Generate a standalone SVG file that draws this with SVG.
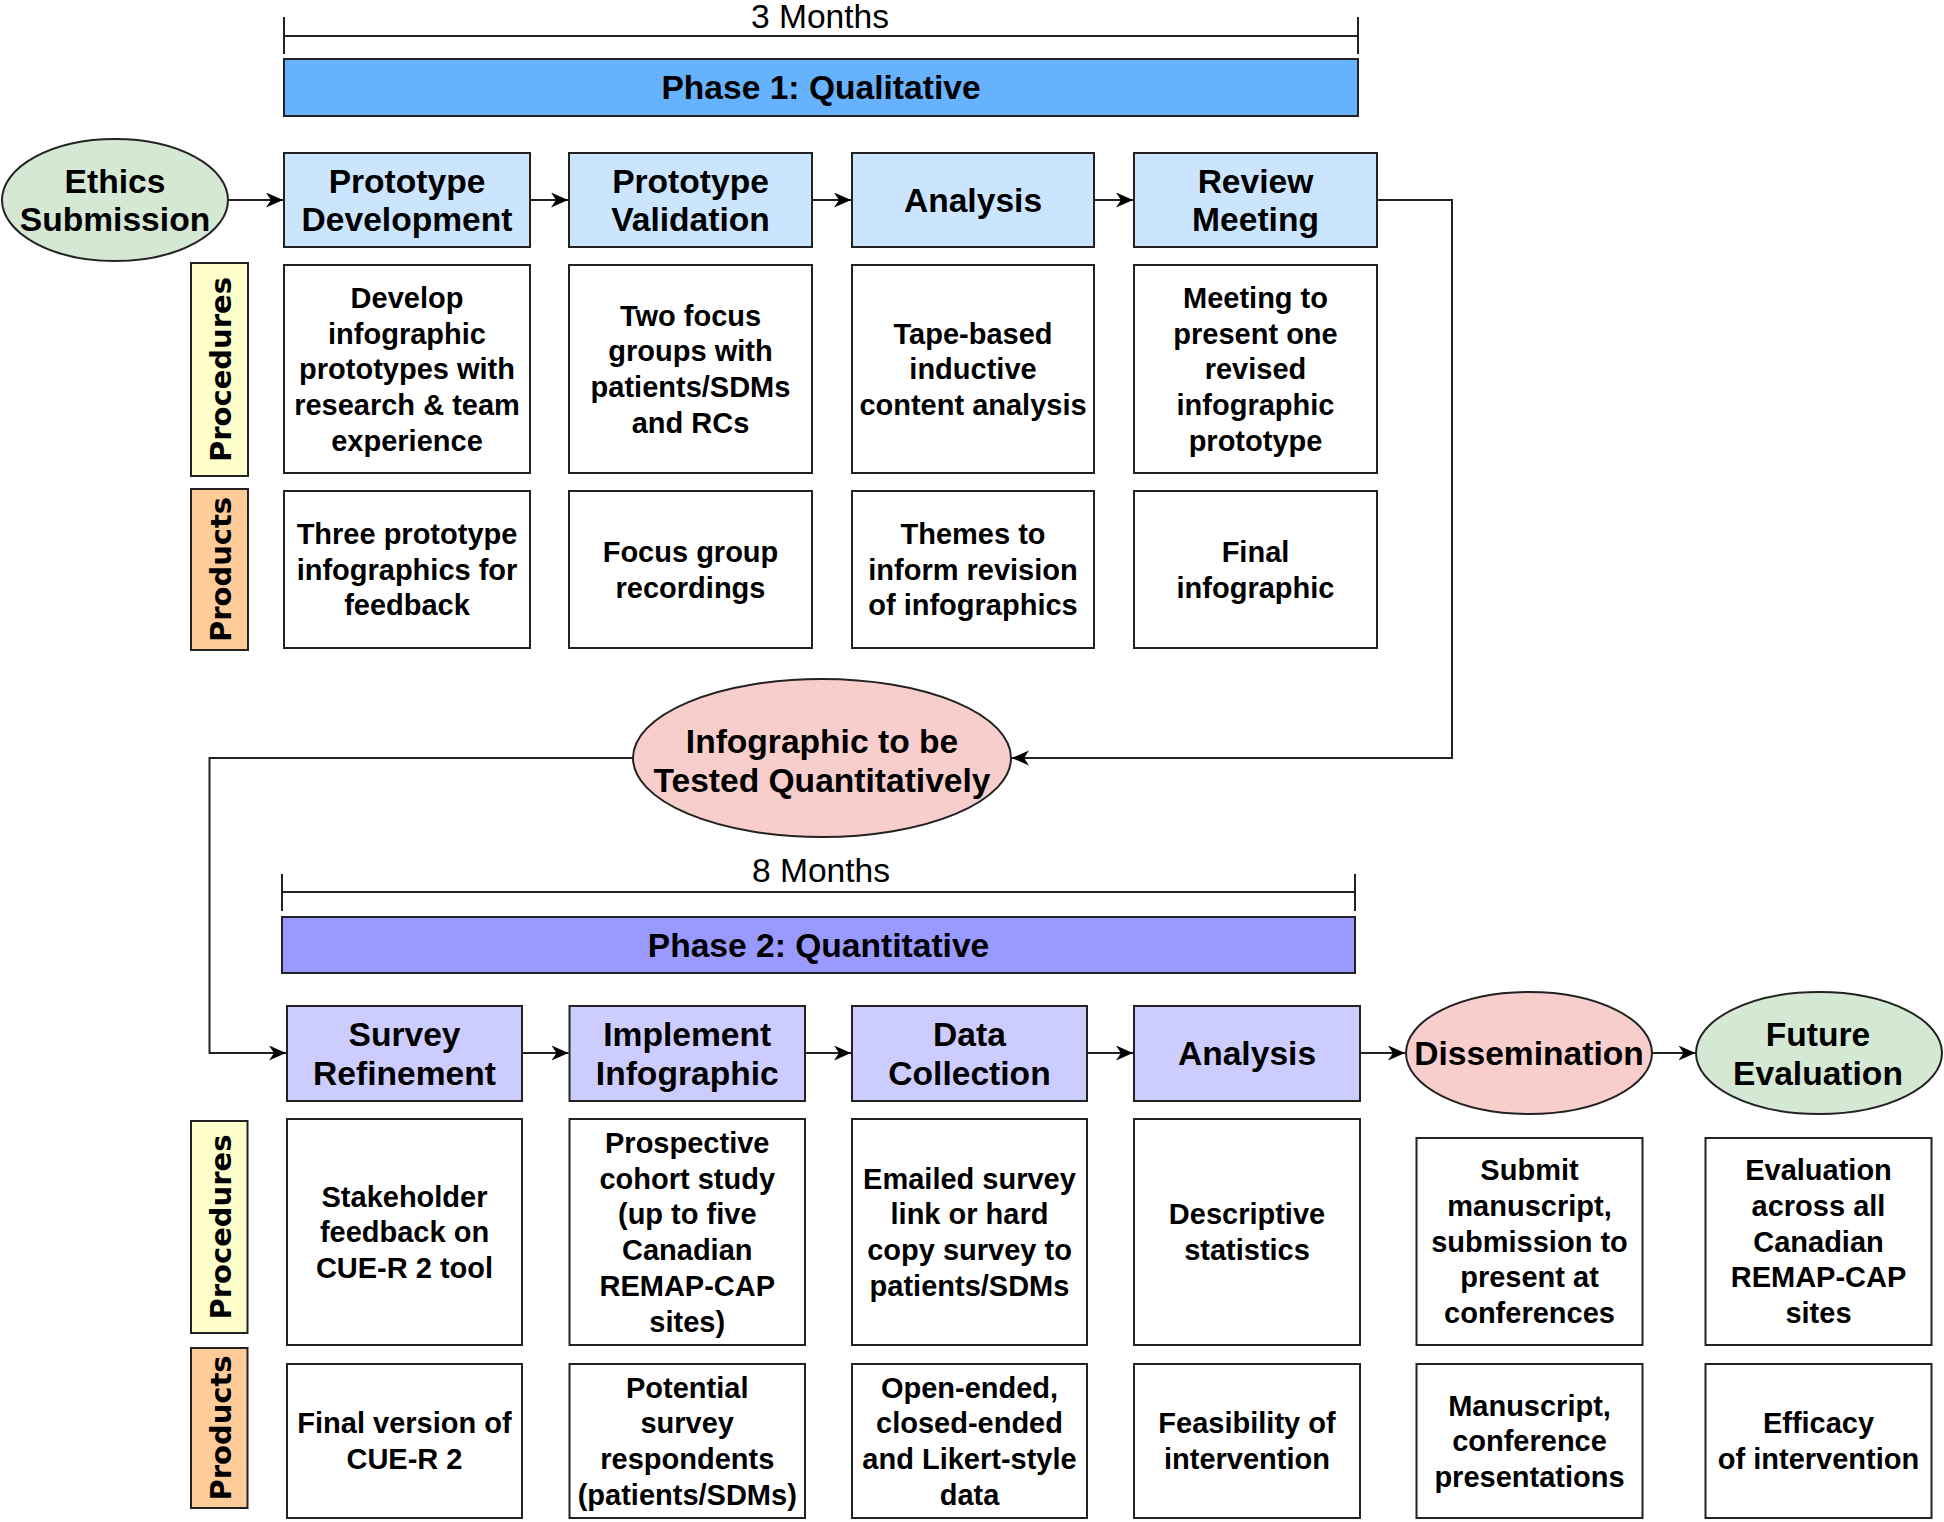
<svg xmlns="http://www.w3.org/2000/svg" width="1944" height="1522" viewBox="0 0 1944 1522">
<defs>
<style>
.bx{stroke:#222;stroke-width:2}
.w{fill:#fff}
.p1{fill:#CCE5FF}
.p2{fill:#CCCCFF}
.t{font-family:"Liberation Sans",Arial,sans-serif;font-weight:bold;font-size:33.6px;text-anchor:middle;fill:#000}
.b{font-family:"Liberation Sans",Arial,sans-serif;font-weight:bold;font-size:29px;text-anchor:middle;fill:#000}
.m{font-family:"Liberation Sans",Arial,sans-serif;font-size:33.6px;text-anchor:middle;fill:#000}
.lab{font-family:"DejaVu Sans",Verdana,sans-serif;font-weight:bold;font-size:29px;text-anchor:middle;fill:#000}
.c{fill:none;stroke:#222;stroke-width:2}
</style>
<marker id="ar" markerUnits="userSpaceOnUse" markerWidth="20" markerHeight="16" refX="17" refY="7.5" orient="auto">
<path d="M0,0 L17,7.5 L0,15 L5,7.5 z" fill="#000"/>
</marker>
</defs>
<rect width="1944" height="1522" fill="#fff"/>

<!-- Phase 1 header -->
<g id="timeline1">
<path d="M284,36 H1358 M284,17 V54 M1358,17 V54" class="c"/>
<text class="m" x="820" y="28">3 Months</text>
</g>
<g id="phase1">
<rect x="284" y="59" width="1074" height="57" fill="#66B2FF" class="bx"/>
<text class="t" x="821" y="99.3">Phase 1: Qualitative</text>
</g>

<!-- Phase 1 nodes -->
<g id="ethics">
<ellipse cx="115" cy="200" rx="113" ry="61" fill="#D5E8D4" class="bx"/>
<text class="t" x="115" y="192.5">Ethics</text>
<text class="t" x="115" y="231">Submission</text>
</g>
<g id="protoDev">
<rect x="284" y="153" width="246" height="94" class="bx p1"/>
<text class="t" x="407" y="192.5">Prototype</text>
<text class="t" x="407" y="231">Development</text>
</g>
<g id="protoVal">
<rect x="569" y="153" width="243" height="94" class="bx p1"/>
<text class="t" x="690.5" y="192.5">Prototype</text>
<text class="t" x="690.5" y="231">Validation</text>
</g>
<g id="analysis1">
<rect x="852" y="153" width="242" height="94" class="bx p1"/>
<text class="t" x="973" y="211.8">Analysis</text>
</g>
<g id="review">
<rect x="1134" y="153" width="243" height="94" class="bx p1"/>
<text class="t" x="1255.5" y="192.5">Review</text>
<text class="t" x="1255.5" y="231">Meeting</text>
</g>

<g id="procLabel1">
<rect x="191" y="263" width="57" height="213" fill="#FFFFCC" class="bx"/>
<text class="lab" transform="translate(231,369.5) rotate(-90)" x="0" y="0">Procedures</text>
</g>
<g id="prodLabel1">
<rect x="191" y="489" width="57" height="161" fill="#FFCC99" class="bx"/>
<text class="lab" transform="translate(231,569.5) rotate(-90)" x="0" y="0">Products</text>
</g>

<g id="proc1a">
<rect x="284" y="265" width="246" height="208" class="bx w"/>
<text class="b" x="407" y="307.8">Develop</text>
<text class="b" x="407" y="343.5">infographic</text>
<text class="b" x="407" y="379.2">prototypes with</text>
<text class="b" x="407" y="414.9">research &amp; team</text>
<text class="b" x="407" y="450.6">experience</text>
</g>
<g id="proc1b">
<rect x="569" y="265" width="243" height="208" class="bx w"/>
<text class="b" x="690.5" y="325.7">Two focus</text>
<text class="b" x="690.5" y="361.4">groups with</text>
<text class="b" x="690.5" y="397.1">patients/SDMs</text>
<text class="b" x="690.5" y="432.8">and RCs</text>
</g>
<g id="proc1c">
<rect x="852" y="265" width="242" height="208" class="bx w"/>
<text class="b" x="973" y="343.5">Tape-based</text>
<text class="b" x="973" y="379.2">inductive</text>
<text class="b" x="973" y="414.9">content analysis</text>
</g>
<g id="proc1d">
<rect x="1134" y="265" width="243" height="208" class="bx w"/>
<text class="b" x="1255.5" y="307.8">Meeting to</text>
<text class="b" x="1255.5" y="343.5">present one</text>
<text class="b" x="1255.5" y="379.2">revised</text>
<text class="b" x="1255.5" y="414.9">infographic</text>
<text class="b" x="1255.5" y="450.6">prototype</text>
</g>

<g id="prod1a">
<rect x="284" y="491" width="246" height="157" class="bx w"/>
<text class="b" x="407" y="544">Three prototype</text>
<text class="b" x="407" y="579.7">infographics for</text>
<text class="b" x="407" y="615.4">feedback</text>
</g>
<g id="prod1b">
<rect x="569" y="491" width="243" height="157" class="bx w"/>
<text class="b" x="690.5" y="561.9">Focus group</text>
<text class="b" x="690.5" y="597.6">recordings</text>
</g>
<g id="prod1c">
<rect x="852" y="491" width="242" height="157" class="bx w"/>
<text class="b" x="973" y="544">Themes to</text>
<text class="b" x="973" y="579.7">inform revision</text>
<text class="b" x="973" y="615.4">of infographics</text>
</g>
<g id="prod1d">
<rect x="1134" y="491" width="243" height="157" class="bx w"/>
<text class="b" x="1255.5" y="561.9">Final</text>
<text class="b" x="1255.5" y="597.6">infographic</text>
</g>

<g id="infographic">
<ellipse cx="822" cy="758" rx="189" ry="79" fill="#F8CECC" class="bx"/>
<text class="t" x="822" y="752.8">Infographic to be</text>
<text class="t" x="822" y="791.8">Tested Quantitatively</text>
</g>

<!-- Phase 2 header -->
<g id="timeline2">
<path d="M282,892 H1355 M282,874 V911 M1355,874 V911" class="c"/>
<text class="m" x="821" y="882">8 Months</text>
</g>
<g id="phase2">
<rect x="282" y="917" width="1073" height="56" fill="#9999FF" class="bx"/>
<text class="t" x="818.5" y="956.8">Phase 2: Quantitative</text>
</g>

<g id="survey">
<rect x="287" y="1006" width="235" height="95" class="bx p2"/>
<text class="t" x="404.5" y="1046">Survey</text>
<text class="t" x="404.5" y="1084.5">Refinement</text>
</g>
<g id="implement">
<rect x="569.5" y="1006" width="235.5" height="95" class="bx p2"/>
<text class="t" x="687.25" y="1046">Implement</text>
<text class="t" x="687.25" y="1084.5">Infographic</text>
</g>
<g id="dataCollection">
<rect x="852" y="1006" width="235" height="95" class="bx p2"/>
<text class="t" x="969.5" y="1046">Data</text>
<text class="t" x="969.5" y="1084.5">Collection</text>
</g>
<g id="analysis2">
<rect x="1134" y="1006" width="226" height="95" class="bx p2"/>
<text class="t" x="1247" y="1065.3">Analysis</text>
</g>
<g id="dissemination">
<ellipse cx="1529" cy="1053" rx="123" ry="61" fill="#F8CECC" class="bx"/>
<text class="t" x="1529" y="1065">Dissemination</text>
</g>
<g id="future">
<ellipse cx="1819" cy="1053" rx="123" ry="61" fill="#D5E8D4" class="bx"/>
<text class="t" x="1818" y="1046">Future</text>
<text class="t" x="1818" y="1084.5">Evaluation</text>
</g>

<g id="procLabel2">
<rect x="191" y="1121" width="56.5" height="212" fill="#FFFFCC" class="bx"/>
<text class="lab" transform="translate(231,1227) rotate(-90)" x="0" y="0">Procedures</text>
</g>
<g id="prodLabel2">
<rect x="191" y="1348" width="56.5" height="160" fill="#FFCC99" class="bx"/>
<text class="lab" transform="translate(231,1428) rotate(-90)" x="0" y="0">Products</text>
</g>

<g id="proc2a">
<rect x="287" y="1119" width="235" height="226" class="bx w"/>
<text class="b" x="404.5" y="1206.5">Stakeholder</text>
<text class="b" x="404.5" y="1242.2">feedback on</text>
<text class="b" x="404.5" y="1277.9">CUE-R 2 tool</text>
</g>
<g id="proc2b">
<rect x="569.5" y="1119" width="235.5" height="226" class="bx w"/>
<text class="b" x="687.25" y="1153">Prospective</text>
<text class="b" x="687.25" y="1188.7">cohort study</text>
<text class="b" x="687.25" y="1224.4">(up to five</text>
<text class="b" x="687.25" y="1260.1">Canadian</text>
<text class="b" x="687.25" y="1295.8">REMAP-CAP</text>
<text class="b" x="687.25" y="1331.5">sites)</text>
</g>
<g id="proc2c">
<rect x="852" y="1119" width="235" height="226" class="bx w"/>
<text class="b" x="969.5" y="1188.7">Emailed survey</text>
<text class="b" x="969.5" y="1224.4">link or hard</text>
<text class="b" x="969.5" y="1260.1">copy survey to</text>
<text class="b" x="969.5" y="1295.8">patients/SDMs</text>
</g>
<g id="proc2d">
<rect x="1134" y="1119" width="226" height="226" class="bx w"/>
<text class="b" x="1247" y="1224.4">Descriptive</text>
<text class="b" x="1247" y="1260.1">statistics</text>
</g>
<g id="proc2e">
<rect x="1416.5" y="1138" width="226" height="207" class="bx w"/>
<text class="b" x="1529.5" y="1180.3">Submit</text>
<text class="b" x="1529.5" y="1216">manuscript,</text>
<text class="b" x="1529.5" y="1251.7">submission to</text>
<text class="b" x="1529.5" y="1287.4">present at</text>
<text class="b" x="1529.5" y="1323.1">conferences</text>
</g>
<g id="proc2f">
<rect x="1705.5" y="1138" width="226" height="207" class="bx w"/>
<text class="b" x="1818.5" y="1180.3">Evaluation</text>
<text class="b" x="1818.5" y="1216">across all</text>
<text class="b" x="1818.5" y="1251.7">Canadian</text>
<text class="b" x="1818.5" y="1287.4">REMAP-CAP</text>
<text class="b" x="1818.5" y="1323.1">sites</text>
</g>

<g id="prod2a">
<rect x="287" y="1364" width="235" height="154" class="bx w"/>
<text class="b" x="404.5" y="1433.4">Final version of</text>
<text class="b" x="404.5" y="1469.1">CUE-R 2</text>
</g>
<g id="prod2b">
<rect x="569.5" y="1364" width="235.5" height="154" class="bx w"/>
<text class="b" x="687.25" y="1397.7">Potential</text>
<text class="b" x="687.25" y="1433.4">survey</text>
<text class="b" x="687.25" y="1469.1">respondents</text>
<text class="b" x="687.25" y="1504.8">(patients/SDMs)</text>
</g>
<g id="prod2c">
<rect x="852" y="1364" width="235" height="154" class="bx w"/>
<text class="b" x="969.5" y="1397.7">Open-ended,</text>
<text class="b" x="969.5" y="1433.4">closed-ended</text>
<text class="b" x="969.5" y="1469.1">and Likert-style</text>
<text class="b" x="969.5" y="1504.8">data</text>
</g>
<g id="prod2d">
<rect x="1134" y="1364" width="226" height="154" class="bx w"/>
<text class="b" x="1247" y="1433.4">Feasibility of</text>
<text class="b" x="1247" y="1469.1">intervention</text>
</g>
<g id="prod2e">
<rect x="1416.5" y="1364" width="226" height="154" class="bx w"/>
<text class="b" x="1529.5" y="1415.5">Manuscript,</text>
<text class="b" x="1529.5" y="1451.2">conference</text>
<text class="b" x="1529.5" y="1486.9">presentations</text>
</g>
<g id="prod2f">
<rect x="1705.5" y="1364" width="226" height="154" class="bx w"/>
<text class="b" x="1818.5" y="1433.4">Efficacy</text>
<text class="b" x="1818.5" y="1469.1">of intervention</text>
</g>

<!-- Connectors -->
<g id="connectors">
<path class="c" marker-end="url(#ar)" d="M228.5,200 H283"/>
<path class="c" marker-end="url(#ar)" d="M530,200 H568"/>
<path class="c" marker-end="url(#ar)" d="M812,200 H851"/>
<path class="c" marker-end="url(#ar)" d="M1094,200 H1133"/>
<path class="c" marker-end="url(#ar)" d="M1377,200 H1452 V758 H1012"/>
<path class="c" marker-end="url(#ar)" d="M633,758 H209.5 V1053 H286"/>
<path class="c" marker-end="url(#ar)" d="M522,1053 H568.5"/>
<path class="c" marker-end="url(#ar)" d="M805,1053 H851"/>
<path class="c" marker-end="url(#ar)" d="M1087,1053 H1133"/>
<path class="c" marker-end="url(#ar)" d="M1360,1053 H1405"/>
<path class="c" marker-end="url(#ar)" d="M1652,1053 H1695.5"/>
</g>
</svg>
